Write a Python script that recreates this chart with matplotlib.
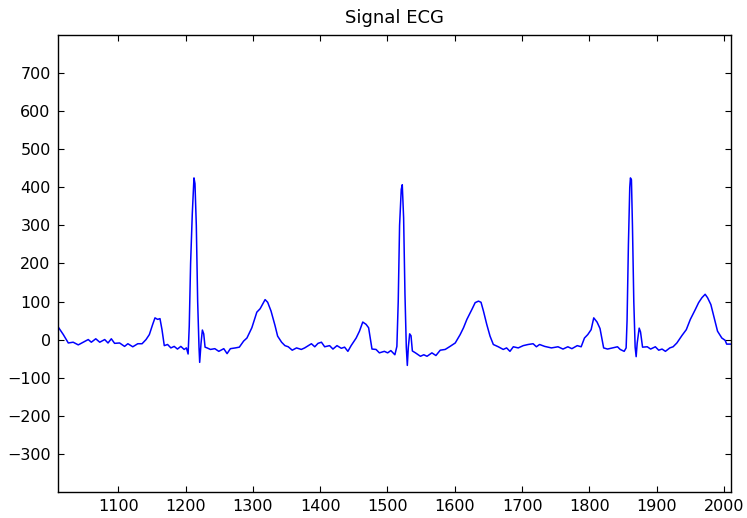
import matplotlib
matplotlib.use("Agg")
import matplotlib.pyplot as plt

# ECG trace: sample index and amplitude
sample_idx = [
    1010, 1018.4, 1025.8, 1033, 1040.6, 1048, 1055.4, 1060, 1066.6, 1072.5, 1079.9,
    1084.8, 1089.7, 1094.6, 1102, 1109.4, 1114.3, 1121.6, 1129, 1135.4,
    1141.3, 1146.2, 1151.2, 1154.6, 1158.5, 1162, 1165, 1168.4, 1173.3, 1178.2,
    1183.1, 1188, 1193, 1197.9, 1201.3, 1203.8,
    1205.5, 1207.5, 1210, 1212.5, 1214, 1216, 1218, 1220, 1221, 1223, 1225, 1227, 1229,
    1232, 1237, 1243.5, 1249.4, 1256.8, 1261.7, 1266.6, 1274, 1279.9, 1286.3,
    1291.2, 1298.5, 1305.9, 1310.8, 1315.7, 1318.2, 1322, 1327, 1332.9, 1336.8,
    1342.7, 1347.7, 1352.6, 1358.5, 1364.9, 1372, 1377,
    1379.7, 1387, 1392, 1396.8, 1401.9, 1406.7, 1414, 1419, 1425, 1431.4, 1436.3,
    1441.2, 1446, 1453.5, 1458.4, 1463.3, 1468.2, 1472, 1477, 1483, 1488, 1495.4,
    1500.3, 1505, 1511, 1514,
    1516, 1518, 1520.5, 1522, 1524, 1526, 1528, 1529.5, 1531, 1533, 1535, 1537,
    1541.6, 1549, 1554, 1558.8, 1566, 1572, 1578.4, 1585.8, 1593, 1600.7, 1608,
    1613, 1618, 1625.4, 1630.3, 1635.2, 1639, 1642.6, 1647.5, 1652.4, 1657.3,
    1664.7, 1672, 1677, 1682, 1687, 1694.3, 1701.7, 1709, 1716.4, 1721.3, 1726,
    1733.6,
    1743.6, 1753.4, 1760.8, 1768, 1774, 1782, 1787.8, 1792.7, 1797.6, 1802.6,
    1806.5, 1811.4, 1815.8, 1821.2, 1827, 1834.5, 1841.8, 1845.8, 1851.7, 1854.6,
    1856, 1858, 1860, 1861, 1862.5, 1864, 1866, 1868, 1869.5, 1871, 1874, 1876, 1879,
    1886, 1891, 1898, 1903, 1908, 1913, 1919.5, 1924.4, 1930, 1937.7, 1944, 1950,
    1957.4, 1962.3, 1967.2, 1972, 1975.6, 1980.5, 1986, 1990.4, 1996.8, 2001.7,
    2004, 2010,
]
amplitude = [
    35, 13, -9, -7, -14, -7, 0, -7, 2, -7, 0,
    -9, 2, -10, -9, -18, -11, -19, -11, -11,
    0, 13, 40, 57, 53, 55, 26, -16, -13, -22,
    -18, -25, -18, -26, -22, -38,
    35, 200, 330, 425, 410, 300, 100, -20, -60, -10, 25, 15, -20,
    -22, -26, -24, -31, -24, -37, -24, -22, -20, -4,
    4, 31, 72, 81, 97, 105, 98, 75, 37, 9,
    -7, -16, -19, -28, -22, -26, -22,
    -19, -11, -19, -10, -7, -19, -16, -25, -16, -23, -20,
    -31, -16, 4, 22, 46, 40, 31, -25, -26, -35, -31,
    -35, -29, -40, -18,
    100, 300, 395, 407, 320, 120, -20, -68, -20, 15, 10, -30,
    -35, -44, -40, -44, -35, -42, -28, -26, -18, -9, 13,
    31, 53, 79, 97, 101, 98, 75, 40, 9, -13,
    -19, -26, -22, -31, -19, -22, -16, -13, -11, -19, -13,
    -18,
    -22, -19, -25, -19, -24, -16, -19, 4, 13, 26,
    57, 46, 29, -22, -25, -22, -19, -26, -31, -22,
    50, 250, 400, 425, 420, 300, 100, -20, -45, -10, 30, 20, -20,
    -19, -25, -19, -28, -25, -31, -22, -19, -9, 11, 26, 53,
    79, 97, 110, 119, 110, 92, 53, 22, 4, -2,
    -12, -12,
]

x_ticks = [1100, 1200, 1300, 1400, 1500, 1600, 1700, 1800, 1900, 2000]
y_ticks = [-300, -200, -100, 0, 100, 200, 300, 400, 500, 600, 700]

plt.rcParams["font.family"] = ["DejaVu Sans"]

fig = plt.figure(figsize=(7.47, 5.18), dpi=100)
ax = fig.add_axes([0.0772, 0.0508, 0.9010, 0.8811])

ax.plot(sample_idx, amplitude, color="#0000ff", linewidth=1.1)

ax.set_xlim(1010, 2010)
ax.set_ylim(-400, 800)
ax.set_xticks(x_ticks)
ax.set_yticks(y_ticks)
ax.tick_params(direction="in", length=4.5, width=0.8, top=True, right=True,
               labelsize=11.5, colors="black", pad=5)
for spine in ax.spines.values():
    spine.set_linewidth(1.0)
    spine.set_color("black")

ax.set_title("Signal ECG", fontsize=13, pad=9)

fig.savefig("out.png", dpi=100)
